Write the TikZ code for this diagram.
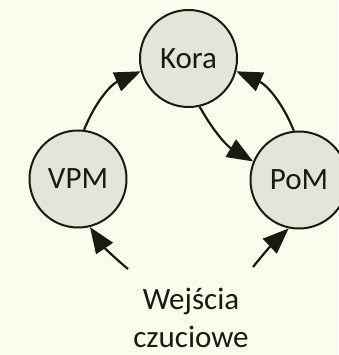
\documentclass[tikz,border=0pt]{standalone}
\usepackage{fontspec}
\setmainfont{Carlito}
\usetikzlibrary{arrows.meta}
\definecolor{bg}{HTML}{FCFCEE}
\definecolor{cfill}{HTML}{E4E4D8}
\definecolor{ink}{HTML}{1A1A0E}
\tikzset{
  area/.style={circle, draw=ink, fill=cfill, line width=2pt, minimum size=97pt, inner sep=0pt, text=ink, font=\fontsize{31}{37}\selectfont},
  conn/.style={draw=ink, line width=2.2pt, -{Triangle[length=26pt,width=20pt]}},
  lbl/.style={text=ink, align=center, inner sep=0pt, font=\fontsize{31}{37}\selectfont}
}
\begin{document}
\begin{tikzpicture}[x=1pt,y=1pt]
\fill[bg] (0,0) rectangle (338,355);
\useasboundingbox (0,0) rectangle (338,355);
\node[area] (kora) at (188.5,296.5) {Kora};
\node[area] (vpm) at (78,176) {VPM};
\node[area] (pom) at (299,175) {PoM};
\node[lbl, anchor=base] (in) at (191,8) {Wejścia\\czuciowe};
\coordinate (s1) at (128,86);
\coordinate (s2) at (253,88);
\draw[conn] (vpm.83) to[bend left=22] (kora.195);
\draw[conn] (pom.96) to[bend right=22] (kora.-15);
\draw[conn] (kora.-77) to[bend right=15] (pom.158);
\draw[conn] (s1) to[bend left=8] (vpm.-76);
\draw[conn] (s2) to[bend left=4] (pom.-102);
\end{tikzpicture}
\end{document}
